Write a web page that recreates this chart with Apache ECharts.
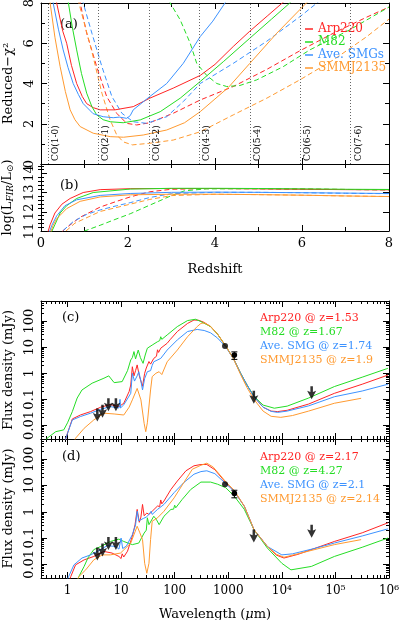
<!DOCTYPE html>
<html><head><meta charset="utf-8">
<script src="https://cdn.jsdelivr.net/npm/echarts@6.0.0/dist/echarts.min.js"></script>
<style>html,body{margin:0;padding:0;background:#fff}#c{width:399px;height:620px}</style>
</head><body><div id="c"></div>
<script>
// ---------------- DATA ----------------
const templateNames = ['Arp220', 'M82', 'Ave. SMGs', 'SMMJ2135'];
// CO transitions redshifted into the observing band
const coNames = ['CO(1-0)', 'CO(2-1)', 'CO(3-2)', 'CO(4-3)', 'CO(5-4)', 'CO(6-5)', 'CO(7-6)'];
const coRedshift = [0.16, 1.32, 2.48, 3.64, 4.80, 5.96, 7.12];

// (a) reduced chi^2 vs redshift  [z, chi2]
const chiArp220Solid = [[0.28,9.5],[0.36,8.0],[0.5,6.6],[0.59,6.0],[0.7,4.9],[0.82,4.0],[0.95,3.35],[1.05,3.0],[1.2,2.8],[1.36,2.69],[1.7,2.69],[2.12,2.85],[2.5,3.27],[3.04,3.77],[3.66,4.4],[4.0,4.95],[4.42,5.84],[4.8,6.6],[5.2,7.35],[5.6,8.1]];
const chiM82Solid = [[0.58,9.0],[0.63,8.0],[0.72,6.8],[0.82,5.67],[0.93,4.5],[1.05,3.52],[1.17,2.85],[1.28,2.44],[1.43,2.2],[1.59,2.1],[1.89,2.05],[2.28,2.19],[2.74,2.6],[3.2,3.27],[3.66,4.1],[4.2,5.1],[4.8,6.25],[5.3,7.2],[5.72,8.0],[5.8,8.2]];
const chiSMGSolid = [[0.22,9.5],[0.28,8.0],[0.4,6.7],[0.51,5.67],[0.62,4.8],[0.74,4.0],[0.86,3.45],[0.97,3.0],[1.2,2.5],[1.43,2.35],[1.66,2.3],[1.8,2.33],[1.97,2.27],[2.05,2.4],[2.12,2.69],[2.5,3.35],[2.89,4.0],[3.27,5.0],[3.66,6.33],[3.95,7.1],[4.23,8.0],[4.3,8.3]];
const chiSMMSolid = [[0.15,9.5],[0.21,8.0],[0.32,6.3],[0.44,4.84],[0.56,3.6],[0.67,2.69],[0.78,2.2],[0.9,1.86],[1.2,1.53],[1.59,1.36],[1.9,1.33],[2.35,1.44],[2.89,1.69],[3.3,2.05],[3.66,2.6],[4.31,3.81],[4.8,5.0],[5.42,6.5],[6.1,8.0],[6.2,8.2]];
const chiArp220Dash = [[0.85,9.0],[0.9,8.0],[1.05,6.5],[1.28,4.84],[1.51,3.35],[1.74,2.52],[1.97,2.02],[2.2,1.94],[2.5,2.05],[3.04,2.52],[3.66,3.18],[4.42,3.85],[5.19,4.7],[5.93,5.6],[6.72,6.5],[7.49,7.3],[8.0,7.8]];
const chiM82Dash = [[2.9,8.5],[2.97,8.0],[3.2,7.16],[3.43,6.0],[3.58,5.0],[3.81,4.4],[4.04,4.0],[4.27,3.85],[4.57,3.9],[4.96,4.18],[5.57,4.84],[6.18,5.67],[7.1,6.67],[8.0,7.8]];
const chiSMGDash = [[0.92,9.0],[0.97,8.0],[1.17,6.5],[1.4,4.84],[1.63,3.35],[1.86,2.52],[2.12,2.1],[2.43,2.02],[2.89,2.35],[3.27,3.1],[3.66,4.0],[4.42,5.0],[5.19,6.1],[6.0,7.4],[6.4,8.1]];
const chiSMMDash = [[0.82,9.0],[0.87,8.0],[1.16,5.67],[1.4,3.52],[1.59,2.19],[1.74,1.45],[1.89,1.1],[2.1,0.95],[2.5,1.03],[3.04,1.19],[3.66,1.6],[4.42,2.44],[5.19,3.27],[5.95,4.18],[6.72,5.17],[7.49,6.33],[8.0,7.2]];

// (b) log(L_FIR/Lsun) vs redshift  [z, logL]
const lfirArp220Solid = [[0.1,10.5],[0.21,11.33],[0.32,11.94],[0.48,12.4],[0.67,12.7],[0.97,13.01],[1.36,13.16],[2.05,13.21],[3,13.22],[4,13.22],[5,13.2],[6,13.18],[7,13.16],[8,13.15]];
const lfirM82Solid = [[0.15,10.5],[0.32,11.33],[0.44,11.94],[0.59,12.32],[0.82,12.7],[1.2,13.01],[2.05,13.19],[3,13.23],[4,13.23],[5,13.22],[6,13.2],[7,13.18],[8,13.17]];
const lfirSMGSolid = [[0.12,10.5],[0.25,11.3],[0.36,11.79],[0.55,12.32],[0.82,12.63],[1.36,12.86],[2.05,12.96],[3,13.02],[4,13.03],[5,13.02],[6,13.0],[7,12.98],[8,12.96]];
const lfirSMMSolid = [[0.15,10.5],[0.28,11.3],[0.36,11.64],[0.59,12.17],[0.9,12.55],[1.36,12.78],[2.05,12.89],[3,12.92],[4,12.92],[5,12.9],[6,12.87],[7,12.83],[8,12.8]];
const lfirArp220Dash = [[0.35,10.7],[0.59,11.18],[0.9,11.72],[1.36,12.25],[1.74,12.55],[2.05,12.78],[2.5,13.05],[3.0,13.18],[4,13.22],[5,13.21],[6,13.19],[7,13.17],[8,13.15]];
const lfirM82Dash = [[0.85,10.7],[1.0,11.0],[1.36,11.3],[1.7,11.6],[2.05,11.9],[2.5,12.35],[3.0,12.85],[3.3,13.1],[3.8,13.2],[5,13.21],[6,13.19],[7,13.17],[8,13.15]];
const lfirSMGDash = [[0.4,10.7],[0.51,11.03],[0.74,11.49],[1.05,11.87],[1.36,12.1],[1.74,12.32],[2.05,12.48],[2.5,12.75],[3.0,12.95],[4,13.02],[5,13.02],[6,13.0],[7,12.97],[8,12.95]];
const lfirSMMDash = [[0.45,10.7],[0.55,10.95],[0.78,11.41],[1.36,12.02],[2.05,12.4],[2.5,12.65],[3.0,12.85],[4,12.92],[5,12.9],[6,12.87],[7,12.83],[8,12.8]];

// (c),(d) redshifted SED templates, read as [log10(lambda/um), log10(F/mJy)]
const sedC_Arp220 = [[-0.08,-2.8],[0.0,-2.3],[0.09,-1.75],[0.24,-1.6],[0.43,-1.47],[0.62,-1.3],[0.8,-1.2],[0.96,-1.28],[1.05,-1.15],[1.15,-0.7],[1.18,-0.45],[1.21,0.25],[1.24,-0.1],[1.27,0.1],[1.30,0.32],[1.34,-0.1],[1.40,-0.5],[1.44,0.0],[1.47,0.2],[1.50,0.15],[1.52,0.45],[1.55,0.35],[1.61,0.57],[1.66,0.65],[1.68,0.9],[1.70,0.8],[1.74,0.96],[1.86,1.15],[1.92,1.3],[2.05,1.6],[2.24,1.91],[2.36,2.04],[2.45,2.03],[2.55,1.95],[2.67,1.79],[2.8,1.5],[2.95,1.05],[3.1,0.55],[3.23,0.0],[3.35,-0.45],[3.48,-0.9],[3.65,-1.3],[3.8,-1.45],[3.92,-1.47],[4.1,-1.42],[4.5,-1.18],[4.98,-0.77],[5.5,-0.42],[5.98,-0.07]];
const sedC_M82 = [[-0.45,-2.8],[-0.38,-2.49],[-0.22,-2.24],[-0.07,-2.17],[0.0,-1.9],[0.09,-1.47],[0.18,-0.95],[0.27,-0.64],[0.46,-0.38],[0.68,-0.19],[0.77,-0.1],[0.87,-0.36],[1.02,-0.32],[1.12,0.1],[1.18,0.51],[1.21,0.6],[1.24,0.83],[1.27,0.55],[1.29,0.57],[1.32,0.89],[1.36,0.6],[1.41,0.38],[1.45,0.7],[1.49,0.96],[1.58,1.08],[1.68,1.21],[1.72,1.25],[1.74,1.4],[1.76,1.3],[1.86,1.47],[2.05,1.79],[2.24,2.02],[2.39,2.07],[2.49,1.98],[2.67,1.79],[2.8,1.5],[2.95,1.05],[3.1,0.55],[3.23,0.0],[3.35,-0.45],[3.48,-0.88],[3.65,-1.22],[3.86,-1.34],[4.1,-1.26],[4.5,-0.95],[4.98,-0.51],[5.5,-0.15],[5.98,0.19]];
const sedC_SMG = [[-0.08,-2.8],[0.0,-2.3],[0.09,-1.79],[0.24,-1.66],[0.43,-1.53],[0.62,-1.38],[0.8,-1.28],[0.96,-1.33],[0.98,-1.0],[0.99,-1.33],[1.05,-1.21],[1.18,-0.77],[1.21,0.0],[1.25,-0.3],[1.30,-0.1],[1.33,0.06],[1.37,-0.3],[1.40,-0.64],[1.44,-0.2],[1.49,0.06],[1.55,0.1],[1.58,0.3],[1.61,0.44],[1.74,0.57],[1.86,0.89],[2.05,1.28],[2.24,1.6],[2.42,1.68],[2.55,1.64],[2.67,1.55],[2.8,1.35],[2.95,1.02],[3.1,0.55],[3.23,0.0],[3.35,-0.45],[3.48,-0.9],[3.65,-1.3],[3.8,-1.46],[3.92,-1.5],[4.1,-1.45],[4.5,-1.25],[4.98,-0.9],[5.5,-0.68],[5.98,-0.42]];
const sedC_SMM = [[0.1,-2.8],[0.15,-2.49],[0.31,-2.11],[0.49,-1.79],[0.68,-1.53],[0.87,-1.56],[1.05,-1.6],[1.15,-1.3],[1.21,-1.02],[1.30,-0.58],[1.37,-1.02],[1.43,-1.92],[1.46,-2.24],[1.49,-1.9],[1.55,-0.64],[1.58,-0.13],[1.65,0.0],[1.71,0.06],[1.76,-0.05],[1.86,0.44],[2.05,0.89],[2.24,1.4],[2.42,1.79],[2.49,1.91],[2.55,1.93],[2.67,1.8],[2.8,1.5],[2.95,1.05],[3.1,0.55],[3.23,-0.05],[3.35,-0.55],[3.48,-1.0],[3.65,-1.45],[3.8,-1.65],[3.98,-1.69],[4.2,-1.62],[4.5,-1.45],[4.98,-1.15],[5.48,-0.96]];

const sedD_Arp220 = [[0.0,-2.8],[0.06,-2.47],[0.15,-2.02],[0.31,-1.83],[0.49,-1.70],[0.68,-1.51],[0.83,-1.57],[0.96,-1.70],[1.0,-1.78],[1.02,-1.6],[1.05,-1.72],[1.12,-1.5],[1.21,-0.93],[1.26,-0.5],[1.30,0.09],[1.34,-0.4],[1.37,-0.2],[1.40,0.28],[1.43,-0.15],[1.48,-0.05],[1.52,-0.1],[1.58,0.02],[1.68,0.22],[1.72,0.2],[1.74,0.45],[1.76,0.3],[1.80,0.41],[1.93,0.85],[2.05,1.17],[2.21,1.56],[2.36,1.75],[2.49,1.8],[2.6,1.8],[2.75,1.6],[2.95,1.12],[3.11,0.8],[3.3,0.21],[3.48,-0.68],[3.73,-1.32],[3.9,-1.65],[4.04,-1.76],[4.3,-1.62],[4.98,-1.13],[5.5,-0.8],[5.98,-0.42]];
const sedD_M82 = [[0.15,-2.8],[0.21,-2.47],[0.31,-2.08],[0.38,-1.76],[0.49,-1.44],[0.62,-1.32],[0.8,-1.13],[0.96,-1.04],[1.05,-1.13],[1.21,-1.25],[1.33,-1.19],[1.43,-0.81],[1.47,-0.7],[1.49,-0.23],[1.52,-0.49],[1.61,-0.17],[1.66,-0.3],[1.71,-0.49],[1.80,-0.17],[1.93,0.09],[1.98,0.1],[2.0,0.25],[2.02,0.15],[2.14,0.47],[2.30,0.85],[2.49,1.13],[2.67,1.13],[2.8,1.05],[2.95,0.92],[3.11,0.6],[3.3,0.09],[3.48,-0.68],[3.73,-1.38],[4.0,-1.96],[4.17,-2.21],[4.55,-2.08],[4.98,-1.7],[5.5,-1.35],[5.98,-1.0]];
const sedD_SMG = [[-0.05,-2.8],[0.02,-2.47],[0.12,-2.02],[0.27,-1.76],[0.43,-1.64],[0.62,-1.44],[0.74,-1.29],[0.9,-1.32],[0.96,-1.42],[1.0,-1.0],[1.03,-1.4],[1.1,-1.3],[1.21,-0.87],[1.27,-0.5],[1.30,0.02],[1.33,-0.35],[1.37,-0.3],[1.42,-0.25],[1.47,-0.2],[1.52,-0.1],[1.56,0.02],[1.58,-0.1],[1.68,0.09],[1.8,0.28],[1.99,0.73],[2.17,1.11],[2.36,1.43],[2.49,1.53],[2.6,1.56],[2.75,1.45],[2.95,1.08],[3.11,0.78],[3.3,0.21],[3.48,-0.68],[3.73,-1.32],[4.0,-1.64],[4.2,-1.6],[4.6,-1.4],[4.98,-1.19],[5.5,-0.92],[5.98,-0.65]];
const sedD_SMM = [[0.15,-2.8],[0.21,-2.47],[0.34,-2.21],[0.49,-1.83],[0.65,-1.64],[0.8,-1.64],[0.99,-1.57],[1.18,-1.19],[1.30,-0.55],[1.35,-0.8],[1.40,-1.06],[1.44,-1.96],[1.48,-2.34],[1.52,-1.96],[1.55,-1.06],[1.58,-0.36],[1.68,-0.23],[1.80,0.02],[1.99,0.53],[2.17,1.11],[2.33,1.62],[2.49,1.77],[2.6,1.85],[2.72,1.7],[2.95,1.15],[3.11,0.82],[3.3,0.21],[3.48,-0.68],[3.73,-1.32],[3.9,-1.62],[4.04,-1.73],[4.3,-1.6],[4.98,-1.25],[5.48,-1.06]];

// observed photometry [lambda um, F mJy]
const upperLimits = [[3.6,0.025],[4.5,0.035],[5.8,0.062],[8.0,0.062],[3000,0.12],[36000,0.18]];
const detections = [[870,11.2]];
const detectionsErr = [[1300,5.0,1.6]];

const annC = ['Arp220 @ z=1.53', 'M82 @ z=1.67', 'Ave. SMG @ z=1.74', 'SMMJ2135 @ z=1.9'];
const annD = ['Arp220 @ z=2.17', 'M82 @ z=4.27', 'Ave. SMG @ z=2.1', 'SMMJ2135 @ z=2.14'];

const xLogTicks = [1, 10, 100, 1000, 1e4, 1e5, 1e6];
const xLogLabels = ['1', '10', '100', '1000', '10\u2074', '10\u2075', '10\u2076'];
const yLogTicks = [0.01, 0.1, 1, 10, 100];
const yLogLabels = ['0.01', '0.1', '1', '10', '100'];
const lfirTicks = [11, 12, 13, 14];

// ---------------- STYLE / LAYOUT ----------------
const RED = '#ff2424', GREEN = '#25dd25', BLUE = '#3c92ff', ORANGE = '#ff9a30';
const COLORS = [RED, GREEN, BLUE, ORANGE];
const FONT = 'DejaVu Serif';
const SEDMIN = Math.pow(10, -2.52), SEDMAX = Math.pow(10, 2.77);
const XMIN = 0.32, XMAX = 1e6;

function logMinor(lo, hi) {
  const out = [];
  for (let e = -4; e <= 6; e++) for (let k = 2; k <= 9; k++) {
    const v = k * Math.pow(10, e);
    if (v > lo && v < hi) out.push(v);
  }
  return out;
}
function linMinor(lo, hi, step) {
  const out = [];
  for (let v = lo + step; v < hi - 1e-9; v += step) {
    if (Math.abs(v - Math.round(v)) > 1e-6) out.push(+v.toFixed(3));
  }
  return out;
}
const black = { color: '#000', width: 1 };
function ax(o) {
  return Object.assign({
    axisLine: { show: true, onZero: false, lineStyle: black },
    axisTick: { show: true, inside: true, length: 6, lineStyle: black },
    axisLabel: { show: false },
    splitLine: { show: false },
    axisPointer: { show: false },
    silent: true
  }, o);
}
function lab(extra) {
  return Object.assign({ show: true, fontFamily: FONT, fontSize: 12, color: '#000' }, extra);
}
function fmtFrom(vals, labels) {
  return v => { const i = vals.findIndex(t => Math.abs(t - v) / t < 1e-6); return i < 0 ? '' : labels[i]; };
}

const grids = [
  { left: 41, top: 3, width: 348, height: 161 },
  { left: 41, top: 164, width: 348, height: 67 },
  { left: 41, top: 301, width: 348, height: 138 },
  { left: 41, top: 439, width: 348, height: 139 }
].map(g => Object.assign(g, { containLabel: false, outerBoundsMode: 'none' }));

const minorLin = { show: true, splitNumber: 2, length: 4, lineStyle: black };
const xMinorLog = logMinor(XMIN, XMAX), yMinorLog = logMinor(SEDMIN, SEDMAX);

const xAxes = [
  ax({ type: 'value', gridIndex: 0, position: 'bottom', min: 0, max: 8, interval: 2, minorTick: minorLin }),
  ax({ type: 'value', gridIndex: 0, position: 'top', min: 0, max: 8, interval: 2, minorTick: minorLin }),
  ax({ type: 'value', gridIndex: 1, position: 'bottom', min: 0, max: 8, interval: 2, minorTick: minorLin,
       axisLabel: lab({ margin: 6, fontSize: 13 }),
       name: 'Redshift', nameLocation: 'middle', nameGap: 32, nameTextStyle: { fontFamily: FONT, fontSize: 13, color: '#000' } }),
  ax({ type: 'value', gridIndex: 1, position: 'top', min: 0, max: 8, interval: 2, minorTick: minorLin })
];
function logX(grid, pos, minor, labels) {
  const o = ax({ type: 'log', gridIndex: grid, position: pos, min: XMIN, max: XMAX,
    axisTick: { show: true, inside: true, length: minor ? 3 : 6, lineStyle: black, customValues: minor ? xMinorLog : xLogTicks } });
  if (minor) o.axisLine = { show: false };
  if (labels) {
    o.axisLabel = lab({ customValues: xLogTicks, formatter: fmtFrom(xLogTicks, xLogLabels), margin: 7, fontSize: 12 });
    o.name = 'Wavelength ({i|\u03bc}m)'; o.nameLocation = 'middle'; o.nameGap = 30;
    o.nameTextStyle = { fontFamily: FONT, fontSize: 13, color: '#000', rich: { i: { fontFamily: FONT, fontSize: 13, fontStyle: 'italic' } } };
  }
  return o;
}
xAxes.push(logX(2, 'bottom', false), logX(2, 'bottom', true), logX(2, 'top', false), logX(2, 'top', true));
xAxes.push(logX(3, 'bottom', false, true), logX(3, 'bottom', true), logX(3, 'top', false), logX(3, 'top', true));

const yAxes = [
  ax({ type: 'value', gridIndex: 0, position: 'left', min: 0, max: 8, interval: 2, minorTick: minorLin,
       axisLabel: lab({ rotate: 90, margin: 5, fontSize: 13 }),
       name: 'Reduced\u2212\u03c7\u00b2', nameLocation: 'middle', nameGap: 22, nameTextStyle: { fontFamily: FONT, fontSize: 13, color: '#000' } }),
  ax({ type: 'value', gridIndex: 0, position: 'right', min: 0, max: 8, interval: 2, minorTick: minorLin })
];
const lfirMinor = linMinor(11, 14.5, 0.2);
function linY(grid, pos, minor, labels) {
  const o = ax({ type: 'value', gridIndex: grid, position: pos, min: 11, max: 14.5,
    axisTick: { show: true, inside: true, length: minor ? 3 : 6, lineStyle: black, customValues: minor ? lfirMinor : lfirTicks } });
  if (minor) o.axisLine = { show: false };
  if (labels) {
    o.axisLabel = lab({ rotate: 90, margin: 5, fontSize: 13, customValues: lfirTicks });
    o.name = 'log(L{s|FIR}/L{o|\u2299})'; o.nameLocation = 'middle'; o.nameGap = 22;
    o.nameTextStyle = { fontFamily: FONT, fontSize: 13, color: '#000', rich: {
      s: { fontFamily: FONT, fontSize: 9, fontStyle: 'italic', verticalAlign: 'bottom', padding: [5, 0, 0, 0] },
      o: { fontFamily: FONT, fontSize: 9, verticalAlign: 'bottom', padding: [5, 0, 0, 0] } } };
  }
  return o;
}
yAxes.push(linY(1, 'left', false, true), linY(1, 'left', true), linY(1, 'right', false), linY(1, 'right', true));
function logY(grid, pos, minor, labels) {
  const o = ax({ type: 'log', gridIndex: grid, position: pos, min: SEDMIN, max: SEDMAX,
    axisTick: { show: true, inside: true, length: minor ? 3 : 6, lineStyle: black, customValues: minor ? yMinorLog : yLogTicks } });
  if (minor) o.axisLine = { show: false };
  if (labels) {
    o.axisLabel = lab({ rotate: 90, margin: 5, fontSize: 13, customValues: yLogTicks, formatter: fmtFrom(yLogTicks, yLogLabels) });
    o.name = 'Flux density (mJy)'; o.nameLocation = 'middle'; o.nameGap = 22;
    o.nameTextStyle = { fontFamily: FONT, fontSize: 13, color: '#000' };
  }
  return o;
}
yAxes.push(logY(2, 'left', false, true), logY(2, 'left', true), logY(2, 'right', false), logY(2, 'right', true));
yAxes.push(logY(3, 'left', false, true), logY(3, 'left', true), logY(3, 'right', false), logY(3, 'right', true));

// ---------------- SERIES ----------------
function curve(name, data, xi, yi, color, dash) {
  return { type: 'line', name, data, xAxisIndex: xi, yAxisIndex: yi, symbol: 'none', showSymbol: false,
    clip: true, silent: true, animation: false, z: 3,
    itemStyle: { color }, lineStyle: { color, width: 1, type: dash ? [5, 3] : 'solid' } };
}
const toLin = arr => arr.map(p => [Math.pow(10, p[0]), Math.pow(10, p[1])]);

const series = [];
const chiSolid = [chiArp220Solid, chiM82Solid, chiSMGSolid, chiSMMSolid];
const chiDash = [chiArp220Dash, chiM82Dash, chiSMGDash, chiSMMDash];
chiDash.forEach((d, i) => series.push(curve(templateNames[i] + ' (dashed)', d, 0, 0, COLORS[i], true)));
chiSolid.forEach((d, i) => series.push(curve(templateNames[i], d, 0, 0, COLORS[i], false)));
series[4].markLine = {
  silent: true, symbol: ['none', 'none'], animation: false,
  lineStyle: { color: '#666', type: [1, 2], width: 1 },
  label: { show: true, position: 'insideStartBottom', formatter: '{b}', fontFamily: FONT, fontSize: 9, color: '#000', distance: 3 },
  data: coRedshift.map((z, i) => ({ xAxis: z, name: coNames[i] }))
};
const lfirSolid = [lfirArp220Solid, lfirM82Solid, lfirSMGSolid, lfirSMMSolid];
const lfirDash = [lfirArp220Dash, lfirM82Dash, lfirSMGDash, lfirSMMDash];
lfirDash.forEach((d, i) => series.push(curve(templateNames[i] + ' b-dashed', d, 2, 2, COLORS[i], true)));
lfirSolid.forEach((d, i) => series.push(curve(templateNames[i] + ' b', d, 2, 2, COLORS[i], false)));

const sedC = [sedC_Arp220, sedC_M82, sedC_SMG, sedC_SMM];
const sedD = [sedD_Arp220, sedD_M82, sedD_SMG, sedD_SMM];
const ARROW = 'path://M3.6,0L6.4,0L6.4,7L10,5.5L5,16L0,5.5L3.6,7Z';
function photometry(xi, yi) {
  series.push({ type: 'scatter', data: upperLimits, xAxisIndex: xi, yAxisIndex: yi, symbol: ARROW, symbolSize: [9, 13],
    itemStyle: { color: '#000' }, silent: true, animation: false, z: 6 });
  series.push({ type: 'scatter', data: detections, xAxisIndex: xi, yAxisIndex: yi, symbol: 'circle', symbolSize: 6,
    itemStyle: { color: '#000' }, silent: true, animation: false, z: 6 });
  series.push({ type: 'custom', data: detectionsErr, xAxisIndex: xi, yAxisIndex: yi, silent: true, animation: false, z: 6,
    renderItem: (params, api) => {
      const x = api.value(0), y = api.value(1), e = api.value(2);
      const p = api.coord([x, y]), lo = api.coord([x, y - e]), hi = api.coord([x, y + e]);
      const st = { stroke: '#000', lineWidth: 1 };
      return { type: 'group', children: [
        { type: 'line', shape: { x1: p[0], y1: lo[1], x2: p[0], y2: hi[1] }, style: st },
        { type: 'line', shape: { x1: p[0] - 3, y1: lo[1], x2: p[0] + 3, y2: lo[1] }, style: st },
        { type: 'line', shape: { x1: p[0] - 3, y1: hi[1], x2: p[0] + 3, y2: hi[1] }, style: st },
        { type: 'circle', shape: { cx: p[0], cy: p[1], r: 2.8 }, style: { fill: '#000' } }
      ] };
    } });
}
sedC.forEach((d, i) => series.push(curve(annC[i], toLin(d), 4, 6, COLORS[i], false)));
photometry(4, 6);
sedD.forEach((d, i) => series.push(curve(annD[i], toLin(d), 8, 10, COLORS[i], false)));
photometry(8, 10);

// ---------------- TEXT ----------------
const graphic = [];
[['(a)', 60, 25], ['(b)', 60, 186], ['(c)', 62, 318], ['(d)', 62, 457]].forEach(t =>
  graphic.push({ type: 'text', x: t[1], y: t[2], silent: true,
    style: { text: t[0], fill: '#000', font: '13px "DejaVu Serif"', verticalAlign: 'middle' } }));
annC.forEach((t, i) => graphic.push({ type: 'text', x: 260, y: 318 + i * 14, silent: true,
  style: { text: t, fill: COLORS[i], font: '11px "DejaVu Serif"', verticalAlign: 'middle' } }));
annD.forEach((t, i) => graphic.push({ type: 'text', x: 260, y: 457 + i * 14, silent: true,
  style: { text: t, fill: COLORS[i], font: '11px "DejaVu Serif"', verticalAlign: 'middle' } }));

const chart = echarts.init(document.getElementById('c'), null, { renderer: 'canvas' });
chart.setOption({
  animation: false,
  backgroundColor: '#fff',
  textStyle: { fontFamily: FONT },
  grid: grids,
  xAxis: xAxes,
  yAxis: yAxes,
  legend: {
    orient: 'vertical', left: 300, top: 18, itemGap: 1, itemWidth: 8, itemHeight: 1.5, icon: 'rect',
    selectedMode: false, textStyle: { fontFamily: FONT, fontSize: 12, lineHeight: 12 },
    data: templateNames.map((n, i) => ({ name: n, textStyle: { color: COLORS[i] } }))
  },
  graphic: graphic,
  series: series
});
</script></body></html>
